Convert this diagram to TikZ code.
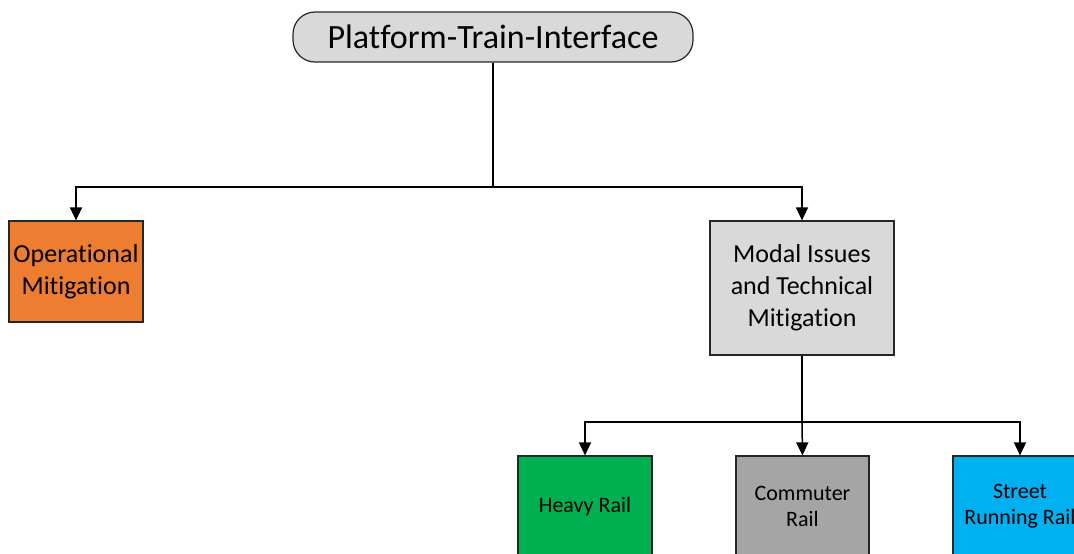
\documentclass[tikz,border=0pt]{standalone}
\usepackage{fontspec}
\setmainfont[Ligatures=NoCommon]{Carlito}
\usetikzlibrary{arrows.meta}
\definecolor{boxgray}{HTML}{D9D9D9}
\definecolor{opsorange}{HTML}{ED7D31}
\definecolor{heavygreen}{HTML}{00B050}
\definecolor{commgray}{HTML}{A5A5A5}
\definecolor{streetblue}{HTML}{00B0F0}
\tikzset{
  box/.style={draw=black!85, line width=1.2pt, align=center, inner sep=0pt},
  bigtext/.style={font=\fontsize{26}{32}\selectfont},
  smalltext/.style={font=\fontsize{22}{26}\selectfont},
  link/.style={line width=1.5pt, -{Triangle[length=13pt,width=12pt]}},
  plain/.style={line width=1.5pt}
}
\begin{document}
\begin{tikzpicture}[x=1pt,y=-1pt]
  \clip (0,0) rectangle (1074,554);
  \fill[white] (0,0) rectangle (1074,554);

  % root
  \node[box, fill=boxgray, rounded corners=22pt, minimum width=400pt, minimum height=50pt,
        font=\fontsize{34}{38}\selectfont] (root) at (493,37) {Platform-Train-Interface};

  % second level
  \node[box, fill=opsorange, minimum width=134pt, minimum height=101pt, bigtext]
        (ops) at (76,271.5) {Operational\\Mitigation};
  \node[box, fill=boxgray, minimum width=184pt, minimum height=134pt, bigtext]
        (modal) at (802,288) {Modal Issues\\and Technical\\Mitigation};

  % third level
  \node[box, fill=heavygreen, minimum width=134pt, minimum height=101pt, smalltext]
        (heavy) at (585,506.5) {Heavy Rail};
  \node[box, fill=commgray, minimum width=133pt, minimum height=101pt, smalltext]
        (comm) at (802.5,506.5) {Commuter\\Rail};
  \node[box, fill=streetblue, minimum width=134pt, minimum height=101pt, smalltext]
        (street) at (1020,506.5) {Street\\Running Rail};

  % junctions
  \coordinate (j1) at (493,187);
  \coordinate (j2) at (802,422);

  \draw[plain] (root.south) -- (j1);
  \draw[link] (j1) -| (ops.north);
  \draw[link] (j1) -| (modal.north);

  \draw[plain] (modal.south) -- (j2);
  \draw[link] (j2) -| (heavy.north);
  \draw[link] (j2) -- (comm.north);
  \draw[link] (j2) -| (street.north);
\end{tikzpicture}
\end{document}
